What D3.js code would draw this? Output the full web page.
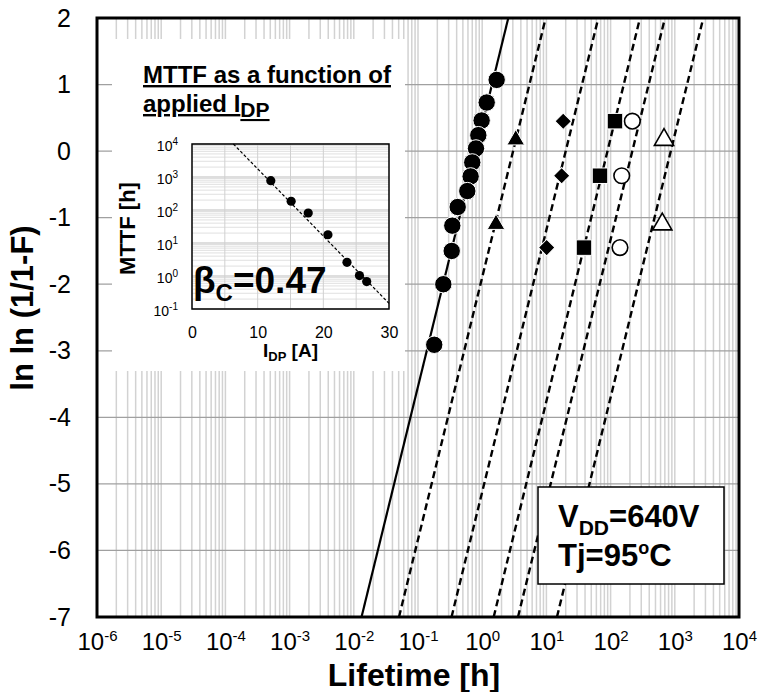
<!DOCTYPE html>
<html>
<head>
<meta charset="utf-8">
<script src="https://cdn.jsdelivr.net/npm/d3@7"></script>
<style>
  body { margin: 0; background: #fff; }
  text { font-family: "Liberation Sans", Arial, sans-serif; fill: #000; }
</style>
</head>
<body>
<div id="chart"></div>
<script>
// main Weibull plot
const decades = [1e-6, 1e-5, 1e-4, 1e-3, 1e-2, 1e-1, 1e0, 1e1, 1e2, 1e3, 1e4];
const yTicks = [2, 1, 0, -1, -2, -3, -4, -5, -6, -7];

const circleLife = [1.68, 1.175, 0.98, 0.87, 0.80, 0.70, 0.66, 0.586, 0.415, 0.342, 0.335, 0.248, 0.179];
const circleF = [1.07, 0.73, 0.46, 0.24, 0.04, -0.17, -0.38, -0.60, -0.84, -1.12, -1.50, -2.00, -2.91];
const triLife = [3.33, 1.64];
const diamondLife = [18.3, 17.3, 10.1];
const squareLife = [117, 68.4, 38.5];
const openCircleLife = [218, 149, 140];
const openTriLife = [679, 638];
const rank2F = [0.17, -1.10];
const rank3F = [0.45, -0.37, -1.45];

// fitted lines: lifetime where ln ln = -7 and where ln ln = 2
const fitLow = [0.0132, 0.0506, 0.333, 1.51, 3.61, 14.6];
const fitHigh = [2.55, 9.75, 64.4, 287, 703, 2780];

// inset: MTTF vs I_DP
const idpTicks = [0, 10, 20, 30];
const mttfTicks = [1e-1, 1e0, 1e1, 1e2, 1e3, 1e4];
const idpA = [12.0, 15.1, 17.7, 20.7, 23.6, 25.5, 26.6];
const mttfH = [776, 184, 81, 17.8, 2.6, 1.03, 0.68];
const mttfFitIdp = [6.3, 30];
const mttfFitH = [1e4, 0.148];

const W = 761, H = 692;
const margin = {top: 18, right: 22, bottom: 75, left: 97},
    width = W - margin.left - margin.right,
    height = H - margin.top - margin.bottom;

const svg = d3.select("#chart")
  .append("svg")
    .attr("width", W)
    .attr("height", H)
    .style("background-color", "#fff");

const g = svg.append("g")
    .attr("transform", "translate(" + margin.left + "," + margin.top + ")");

const x = d3.scaleLog().domain([1e-6, 1e4]).range([0, width]);
const y = d3.scaleLinear().domain([-7, 2]).range([height, 0]);

// grid
const minor = [];
for (let e = -6; e < 4; e++) {
  for (let k = 1; k <= 9; k++) minor.push(k * Math.pow(10, e));
}
minor.push(1e4);

g.append("g")
  .selectAll("line")
  .data(minor)
  .join("line")
    .attr("x1", d => x(d)).attr("x2", d => x(d))
    .attr("y1", 0).attr("y2", height)
    .attr("stroke", "#d2d2d2")
    .attr("stroke-width", 1.5);

g.append("g")
  .selectAll("line")
  .data(yTicks)
  .join("line")
    .attr("x1", 0).attr("x2", width)
    .attr("y1", d => y(d)).attr("y2", d => y(d))
    .attr("stroke", "#a0a0a0")
    .attr("stroke-width", 1.3);

// axes
const xAxis = g.append("g")
    .attr("transform", "translate(0," + height + ")")
    .call(d3.axisBottom(x).tickValues(decades).tickSize(0).tickFormat(""));
xAxis.select(".domain").remove();
xAxis.selectAll(".tick text")
    .attr("y", 33)
    .attr("dy", 0)
    .attr("font-size", 24)
    .attr("fill", "#000")
    .each(function(d) {
      const t = d3.select(this);
      t.append("tspan").text("10");
      t.append("tspan").attr("font-size", 15).attr("dy", -9).text(Math.round(Math.log10(d)));
    });

const yAxis = g.append("g")
    .call(d3.axisLeft(y).tickValues(yTicks).tickSize(0).tickPadding(26).tickFormat(d => String(d)));
yAxis.select(".domain").remove();
yAxis.selectAll(".tick text")
    .attr("font-size", 25)
    .attr("fill", "#000");

svg.append("text")
    .attr("x", 414)
    .attr("y", 686)
    .attr("text-anchor", "middle")
    .attr("font-weight", "bold")
    .attr("font-size", 32)
    .text("Lifetime [h]");

svg.append("text")
    .attr("transform", "translate(33,308) rotate(-90)")
    .attr("text-anchor", "middle")
    .attr("font-weight", "bold")
    .attr("font-size", 31)
    .text("ln ln (1/1-F)");

// inset panel
g.append("rect")
    .attr("x", 15).attr("y", 21)
    .attr("width", 293).attr("height", 332)
    .attr("fill", "#fff");

const title = g.append("g").attr("font-weight", "bold").attr("font-size", 24);
title.append("text")
    .attr("x", 46).attr("y", 65)
    .style("text-decoration", "underline")
    .text("MTTF as a function of");
const t2 = title.append("text")
    .attr("x", 46).attr("y", 94)
    .style("text-decoration", "underline");
t2.append("tspan").text("applied I");
t2.append("tspan").attr("font-size", 21).attr("dy", 5).text("DP");

const iw = 197, ih = 165;
const inset = g.append("g").attr("transform", "translate(95,126)");
const xi = d3.scaleLinear().domain([0, 30]).range([0, iw]);
const yi = d3.scaleLog().domain([0.1, 1e4]).range([ih, 0]);

inset.append("rect").attr("width", iw).attr("height", ih).attr("fill", "#fff");

const iminor = [];
for (let e = -1; e < 4; e++) {
  for (let k = 2; k <= 9; k++) iminor.push(k * Math.pow(10, e));
}
inset.append("g")
  .selectAll("line")
  .data(iminor)
  .join("line")
    .attr("x1", 0).attr("x2", iw)
    .attr("y1", d => yi(d)).attr("y2", d => yi(d))
    .attr("stroke", "#e0e0e0");
inset.append("g")
  .selectAll("line")
  .data(mttfTicks)
  .join("line")
    .attr("x1", 0).attr("x2", iw)
    .attr("y1", d => yi(d)).attr("y2", d => yi(d))
    .attr("stroke", "#bdbdbd");
inset.append("g")
  .selectAll("line")
  .data([5, 10, 15, 20, 25])
  .join("line")
    .attr("x1", d => xi(d)).attr("x2", d => xi(d))
    .attr("y1", 0).attr("y2", ih)
    .attr("stroke", "#d0d0d0");

const yiAxis = inset.append("g")
    .call(d3.axisLeft(yi).tickValues(mttfTicks).tickSize(0).tickPadding(14).tickFormat(""));
yiAxis.select(".domain").remove();
yiAxis.selectAll(".tick text")
    .attr("font-size", 14)
    .attr("fill", "#000")
    .attr("dy", "0.45em")
    .each(function(d) {
      const t = d3.select(this);
      t.append("tspan").text("10");
      t.append("tspan").attr("font-size", 10).attr("dy", -6).text(Math.round(Math.log10(d)));
    });

const xiAxis = inset.append("g")
    .attr("transform", "translate(0," + ih + ")")
    .call(d3.axisBottom(xi).tickValues(idpTicks).tickSize(0));
xiAxis.select(".domain").remove();
xiAxis.selectAll(".tick text")
    .attr("y", 29)
    .attr("dy", 0)
    .attr("font-size", 16)
    .attr("fill", "#000");

const xt = inset.append("text")
    .attr("x", iw / 2)
    .attr("y", 213)
    .attr("text-anchor", "middle")
    .attr("font-weight", "bold")
    .attr("font-size", 19);
xt.append("tspan").text("I");
xt.append("tspan").attr("font-size", 13).attr("dy", 4).text("DP");
xt.append("tspan").attr("dy", -4).text(" [A]");

inset.append("text")
    .attr("transform", "translate(-57," + (ih / 2 + 2) + ") rotate(-90)")
    .attr("text-anchor", "middle")
    .attr("font-weight", "bold")
    .attr("font-size", 22)
    .text("MTTF [h]");

inset.append("path")
    .datum(mttfFitIdp.map((d, i) => [d, mttfFitH[i]]))
    .attr("fill", "none")
    .attr("stroke", "#000")
    .attr("stroke-width", 1.2)
    .attr("stroke-dasharray", "3,2")
    .attr("d", d3.line().x(d => xi(d[0])).y(d => yi(d[1])));

inset.selectAll("circle")
  .data(idpA.map((d, i) => [d, mttfH[i]]))
  .join("circle")
    .attr("cx", d => xi(d[0]))
    .attr("cy", d => yi(d[1]))
    .attr("r", 4.6)
    .attr("fill", "#000");

const beta = inset.append("text")
    .attr("x", 1)
    .attr("y", 149)
    .attr("font-weight", "bold")
    .attr("font-size", 37);
beta.append("tspan").text("β");
beta.append("tspan").attr("font-size", 24).attr("dy", 8).text("C");
beta.append("tspan").attr("dy", -8).text("=0.47");

inset.append("rect")
    .attr("width", iw).attr("height", ih)
    .attr("fill", "none")
    .attr("stroke", "#000")
    .attr("stroke-width", 1.5);

// fitted Weibull lines
const fitLine = d3.line().x(d => x(d[0])).y(d => y(d[1]));
fitLow.forEach((lo, i) => {
  g.append("path")
    .datum([[lo, -7], [fitHigh[i], 2]])
    .attr("fill", "none")
    .attr("stroke", "#000")
    .attr("stroke-width", i === 0 ? 2.2 : 2.4)
    .attr("stroke-dasharray", i === 0 ? null : "7,4")
    .attr("d", fitLine);
});

// markers
const series = [
  {t: circleLife, f: circleF, type: d3.symbolCircle, size: Math.PI * 8.7 * 8.7, fill: "#000", stroke: "#fff", sw: 1, rot: 0},
  {t: triLife, f: rank2F, type: d3.symbolTriangle, size: 135, fill: "#000", stroke: "#fff", sw: 1, rot: 0},
  {t: diamondLife, f: rank3F, type: d3.symbolSquare, size: 135, fill: "#000", stroke: "#fff", sw: 1, rot: 45},
  {t: squareLife, f: rank3F, type: d3.symbolSquare, size: 240, fill: "#000", stroke: "#fff", sw: 1, rot: 0},
  {t: openCircleLife, f: rank3F, type: d3.symbolCircle, size: Math.PI * 7.8 * 7.8, fill: "#fff", stroke: "#000", sw: 1.6, rot: 0},
  {t: openTriLife, f: rank2F, type: d3.symbolTriangle, size: 160, fill: "#fff", stroke: "#000", sw: 1.6, rot: 0}
];

series.forEach(s => {
  g.append("g")
    .selectAll("path")
    .data(s.t.map((d, i) => [d, s.f[i]]))
    .join("path")
      .attr("transform", d => "translate(" + x(d[0]) + "," + y(d[1]) + ") rotate(" + s.rot + ")")
      .attr("d", d3.symbol().type(s.type).size(s.size))
      .attr("fill", s.fill)
      .attr("stroke", s.stroke)
      .attr("stroke-width", s.sw);
});

// condition box
g.append("rect")
    .attr("x", 441).attr("y", 469)
    .attr("width", 186).attr("height", 97)
    .attr("fill", "#fff")
    .attr("stroke", "#000")
    .attr("stroke-width", 1.5);

const cond = g.append("g").attr("font-weight", "bold").attr("font-size", 31);
const c1 = cond.append("text").attr("x", 461).attr("y", 509);
c1.append("tspan").text("V");
c1.append("tspan").attr("font-size", 21).attr("dy", 8).text("DD");
c1.append("tspan").attr("dy", -8).text("=640V");
const c2 = cond.append("text").attr("x", 461).attr("y", 548);
c2.append("tspan").text("Tj=95");
c2.append("tspan").attr("font-size", 18).attr("dy", -12).text("o");
c2.append("tspan").attr("dy", 12).text("C");

// frame
g.append("rect")
    .attr("width", width)
    .attr("height", height)
    .attr("fill", "none")
    .attr("stroke", "#000")
    .attr("stroke-width", 3);
</script>
</body>
</html>
